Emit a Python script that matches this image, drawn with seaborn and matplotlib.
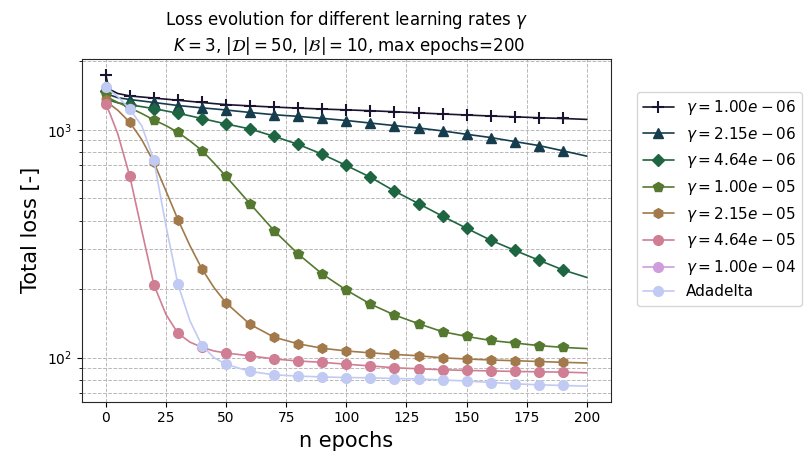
import numpy as np
import pandas as pd
import matplotlib
matplotlib.use("Agg")
import matplotlib.pyplot as plt
import seaborn as sns

epochs = [0, 1, 2, 5, 10, 15, 20, 25, 30, 35, 40, 45, 50, 60, 70, 80, 90, 100,
          110, 120, 130, 140, 150, 160, 170, 180, 190, 200]

gammas = [1.00e-06, 2.15e-06, 4.64e-06, 1.00e-05, 2.15e-05, 4.64e-05, 1.00e-04]

loss_g1 = [1750, 1560, 1500, 1445, 1410, 1395, 1380, 1365, 1350, 1335, 1320, 1305, 1292,
           1275, 1260, 1247, 1235, 1225, 1214, 1202, 1188, 1175, 1163, 1151, 1142, 1131, 1123, 1112]
loss_g2 = [1580, 1450, 1420, 1385, 1360, 1340, 1320, 1300, 1280, 1265, 1250, 1237, 1223,
           1193, 1166, 1147, 1124, 1100, 1072, 1045, 1020, 990, 957, 926, 889, 854, 810, 767]
loss_g3 = [1480, 1370, 1345, 1315, 1290, 1265, 1240, 1212, 1183, 1153, 1122, 1092, 1062,
           1010, 937, 864, 782, 698, 620, 539, 475, 418, 370, 328, 296, 268, 243, 225]
loss_g4 = [1436, 1390, 1370, 1320, 1250, 1180, 1106, 1045, 976, 895, 812, 715, 625,
           474, 361, 285, 233, 198, 172, 154, 141, 130, 124, 119, 116, 113, 111, 109.6]
loss_g5 = [1352, 1320, 1290, 1220, 1080, 905, 720, 540, 404, 310, 245, 203, 174,
           140, 123, 115, 110, 107, 105, 103.3, 102, 99.8, 98.7, 97.7, 97.0, 96.2, 95.4, 94.8]
loss_g6 = [1299, 1230, 1160, 960, 625, 360, 209, 155, 128, 117, 111, 107, 104.8,
           101.9, 98.7, 96.7, 95.4, 93.6, 92.0, 90.3, 89.4, 88.5, 87.9, 87.5, 87.0, 86.7, 86.4, 85.8]
loss_g7 = [np.nan] * len(epochs)  # diverged, only appears in the legend
loss_adadelta = [1545, 1510, 1480, 1400, 1235, 1040, 735, 380, 210, 145, 113, 100, 93.5,
                 87.0, 84.1, 83.0, 82.3, 81.8, 81.6, 81.0, 80.7, 79.8, 79.0, 77.8, 76.8, 76.0, 75.5, 75.0]

labels = [f"$\\gamma = {g:.2e}$" for g in gammas] + ["Adadelta"]
series = [loss_g1, loss_g2, loss_g3, loss_g4, loss_g5, loss_g6, loss_g7, loss_adadelta]
markers = ["+", "^", "D", "p", "h", "o", "o", "o"]

sns.set_style("ticks")
plt.rcParams.update({"text.color": "black", "axes.labelcolor": "black",
                     "xtick.color": "black", "ytick.color": "black"})
colors = sns.color_palette("cubehelix", 9)[:len(series)]

# markers every 10 epochs (0..190)
mark_idx = [i for i, e in enumerate(epochs) if e % 10 == 0 and e < 200]

fig, ax = plt.subplots(figsize=(8.06, 4.61), dpi=100)
fig.subplots_adjust(left=0.1014, right=0.758, bottom=0.1286, top=0.872)

for vals, lab, mk, c in zip(series, labels, markers, colors):
    if np.all(np.isnan(vals)):
        ax.plot([], [], color=c, marker=mk, ms=7, lw=1.2, label=lab)
        continue
    df = pd.DataFrame({"epoch": epochs, "loss": vals})
    sns.lineplot(data=df, x="epoch", y="loss", ax=ax, color=c, marker=mk,
                 markersize=7 if mk not in ("+", "D") else (8 if mk == "+" else 6.5),
                 markevery=mark_idx, markeredgecolor=c,
                 markeredgewidth=1.5 if mk == "+" else 1,
                 linewidth=1.2, label=lab, legend=False)

ax.set_yscale("log")
ax.grid(True, which="both", linestyle="--", color="#b8b8b8", linewidth=0.7)
ax.set_xlabel("n epochs", fontsize=15)
ax.set_ylabel("Total loss [-]", fontsize=15)
ax.tick_params(labelsize=10)
for s in ax.spines.values():
    s.set_visible(True)
ax.set_title("Loss evolution for different learning rates $\\gamma$\n"
             " $K=3$, $|\\mathcal{D}|=50$, $|\\mathcal{B}|=10$, max epochs=200", fontsize=12)
ax.legend(loc="upper left", bbox_to_anchor=(1.049, 0.904), borderaxespad=0, fontsize=11)

fig.savefig("out.png", dpi=100)
